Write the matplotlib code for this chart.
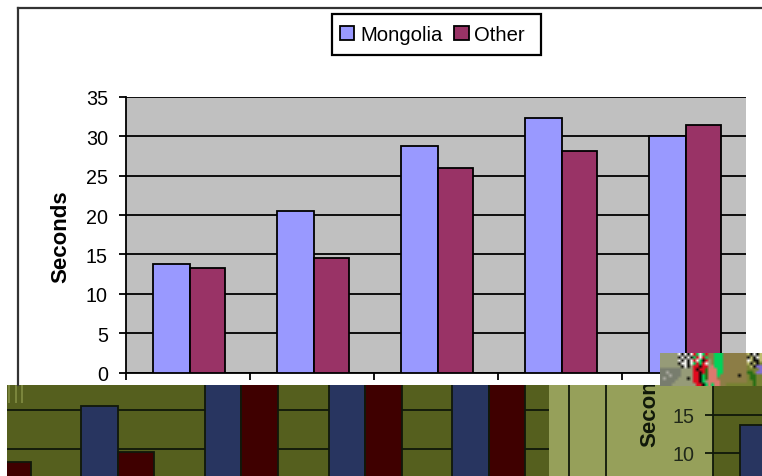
import numpy as np
import matplotlib
matplotlib.use('Agg')
import matplotlib.pyplot as plt
from matplotlib.patches import Rectangle
from matplotlib.lines import Line2D

plt.rcParams['font.family'] = ['Liberation Sans', 'DejaVu Sans']

# Upper chart
seconds_ticks = [0, 5, 10, 15, 20, 25, 30, 35]
mongolia = [13.8, 20.5, 28.8, 32.3, 30.0]
other = [13.3, 14.5, 26.0, 28.2, 31.5]

# Lower chart fragments (the tall bars run past the top of the strip)
strip_mongolia = [30, 15.5, 30, 30, 30]
strip_other = [8.3, 9.6, 30, 30, 30]
corner_mongolia = [13.7]
strip_ticks = [10, 15]

W, H = 762, 477
PERIWINKLE = '#9999ff'
PLUM = '#993366'
OLIVE = '#555f1e'
PALE_OLIVE = '#96a05a'
NAVY = '#283560'
MAROON = '#3f0000'
DARK = '#10180a'


def axes_px(x0, y0, x1, y1, **kw):
    # axes placed by pixel box, y counted from the top of the figure
    return fig.add_axes([x0 / W, 1 - y1 / H, (x1 - x0) / W, (y1 - y0) / H], **kw)


fig = plt.figure(figsize=(W / 100, H / 100), dpi=100, facecolor='white')

# outer chart frame
fig.add_artist(Line2D([18 / W, 18 / W], [1 - 386 / H, 1 - 9 / H], color='#333333', lw=1.6))
fig.add_artist(Line2D([18 / W, 1], [1 - 9 / H, 1 - 9 / H], color='#333333', lw=1.6))

ax = axes_px(126, 98, 746, 373.5, facecolor='#c0c0c0')
x = np.arange(5)
bar_w = 0.297
other_w = 0.285
shift = 0.015
bars1 = ax.bar(x - bar_w / 2 + shift, mongolia, bar_w, color=PERIWINKLE, edgecolor='black', lw=1.3, zorder=3, label='Mongolia')
bars2 = ax.bar(x + other_w / 2 + shift, other, other_w, color=PLUM, edgecolor='black', lw=1.3, zorder=3, label='Other')
ax.set_xlim(-0.5, 4.5)
ax.set_ylim(0, 35)
ax.set_yticks(seconds_ticks)
ax.set_xticks(np.arange(5) - 0.5)
ax.set_xticklabels([])
ax.grid(axis='y', color='black', lw=1.3, zorder=1)
ax.set_axisbelow(True)
ax.tick_params(axis='y', length=5, width=1.3, labelsize=14.2, pad=8)
ax.tick_params(axis='x', length=5, width=1.3)
for s in ['top', 'right']:
    ax.spines[s].set_visible(False)
for s in ['left', 'bottom']:
    ax.spines[s].set_linewidth(1.3)
fig.text(61 / W, 1 - 237 / H, 'Seconds', rotation=90, fontsize=16, fontweight='bold', ha='center', va='center')

# legend box is drawn on its own, the entries sit left of its centre
fig.add_artist(Rectangle((332 / W, 1 - 56 / H), 209 / W, 41 / H, transform=fig.transFigure,
                         facecolor='white', edgecolor='black', lw=1.6))
fig.legend(handles=[bars1, bars2], loc='center', bbox_to_anchor=(432.5 / W, 1 - 35.5 / H), ncol=2,
           fontsize=14.6, frameon=False, handlelength=0.7, handleheight=0.7,
           handletextpad=0.28, columnspacing=0.6, borderpad=0.55, borderaxespad=0)

# Lower strip, left part
lo = axes_px(7, 386, 549, 477, facecolor=OLIVE)
bar_w2 = 0.295
lo.bar(x - bar_w2 / 2, strip_mongolia, bar_w2, color=NAVY, edgecolor=DARK, lw=1.3, zorder=3)
lo.bar(x + bar_w2 / 2, strip_other, bar_w2, color=MAROON, edgecolor=DARK, lw=1.3, zorder=3)
lo.set_xlim(0.105, 4.485)
lo.set_ylim(6.54, 18.21)
for v in strip_ticks:
    lo.axhline(v, color=DARK, lw=1.3, zorder=1)
lo.vlines([0.125, 0.175, 0.23], 15.9, 18.21, color='#7f8a40', lw=1.3, zorder=2)
lo.axis('off')
lo.add_patch(Rectangle((0, 0), 1, 1, transform=lo.transAxes, color=OLIVE, zorder=0))

# Lower strip, pale middle panel with the clipped axis title
mid = axes_px(549, 386, 713, 477, facecolor=PALE_OLIVE)
mid.set_xlim(549, 713)
mid.set_ylim(477, 386)
mid.vlines([569, 606], 386, 477, color=DARK, lw=1.3)
mid.text(650, 447, 'Seconds', rotation=90, fontsize=16, fontweight='bold', ha='center', va='bottom',
         color='#10180a', clip_on=True)
mid.set_xticks([])
mid.set_yticks([])
for s in mid.spines.values():
    s.set_visible(False)

# Lower strip, right corner
cor = axes_px(713, 386, 762, 477, facecolor=OLIVE)
cor.bar([-bar_w / 2 + shift], corner_mongolia, bar_w, color=NAVY, edgecolor=DARK, lw=1.3, zorder=3)
cor.set_xlim(-0.5, -0.5 + 49 / 124)
cor.set_ylim(10 - 23 / 7.6, 15 + 30 / 7.6)
cor.set_yticks(strip_ticks)
cor.set_xticks([])
cor.grid(axis='y', color=DARK, lw=1.3, zorder=1)
cor.set_axisbelow(True)
cor.tick_params(axis='y', length=6, width=1.3, labelsize=14.2, pad=7.5, color=DARK, labelcolor='#20281a')
for s in ['top', 'right', 'bottom']:
    cor.spines[s].set_visible(False)
cor.spines['left'].set_linewidth(1.3)
cor.spines['left'].set_color(DARK)

# Corrupted block sitting across the right edge of the chart
palette = {
    'g': (150, 155, 120), 'k': (15, 15, 10), 'w': (245, 245, 240), 'r': (225, 10, 30), 'G': (0, 210, 90),
    'b': (140, 125, 70), 'o': (120, 130, 50), 'p': (220, 120, 110), 'm': (120, 125, 110), 'n': (40, 110, 20),
    'v': (130, 110, 210), 'y': (190, 190, 110), 'e': (170, 170, 160),
}
noise_rows = [
    'ggggggwkwkwrGwGrbbGGGbbbbbbbbykwky',
    'ggggggkwkwkGrwrGbbGGGbbbbbbbbkykwy',
    'ggggggwkwkwrwGkrgbGGGbbbbbbbbwykky',
    'ggggggkwwkwGrGrwgbGGGbbbbbbbbykyko',
    'gggggggkwkgrrkrrgpGGGbbbbbbbboykvv',
    'mmmmmmmggggrkrrnpppGGbbbbbbbboooov',
    'mmemmmmggggrrkrnpppGGbbbbbbbbnnovv',
    'mmmemmmggggrrkGnpppGbbbbbbkbbonnoo',
    'memmmmgggkgrrkGnpppbbbbbbbbbbonnoo',
    'mmmmmggggggrrkGgppppbbbbbbbbboonoo',
    'mmmmggggggggrrkGpGppbbooooooooonoo',
]
noise = np.array([[palette[c] for c in row] for row in noise_rows], dtype=np.uint8)
blk = axes_px(660, 354, 762, 387)
blk.imshow(noise, aspect='auto', interpolation='bilinear')
blk.axis('off')

fig.savefig('out.png', dpi=100)
print('saved out.png')
